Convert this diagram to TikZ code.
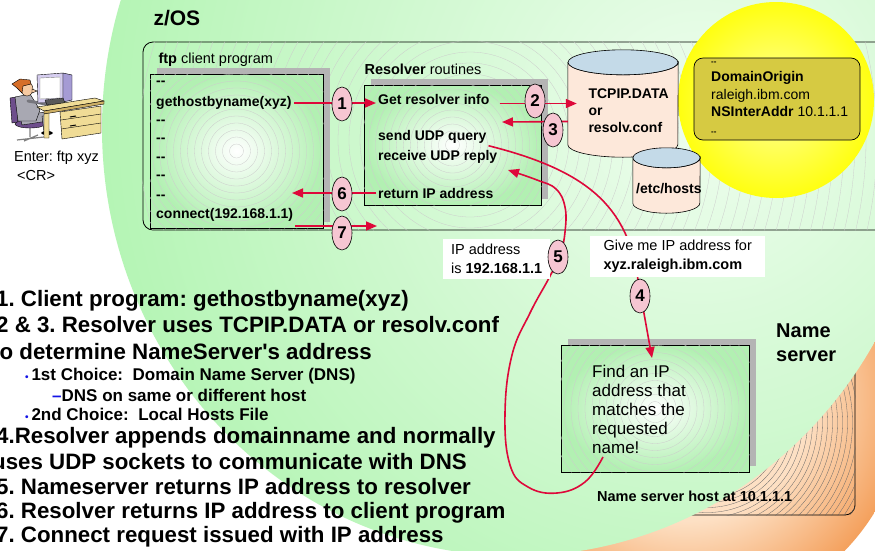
\documentclass[tikz,border=0pt]{standalone}
\usepackage{fontspec}
\setmainfont{Liberation Sans}
\usetikzlibrary{arrows.meta, positioning, shapes.geometric, shadows, calc}

\definecolor{zgreen}{RGB}{176,244,176}
\definecolor{zlight}{RGB}{238,253,238}
\definecolor{boxgreen}{RGB}{178,240,178}
\definecolor{peach}{RGB}{253,224,196}
\definecolor{dorange}{RGB}{244,160,92}
\definecolor{arrowred}{RGB}{222,8,58}
\definecolor{numpink}{RGB}{246,198,210}
\definecolor{khaki}{RGB}{214,202,66}
\definecolor{sunyellow}{RGB}{255,255,16}
\definecolor{capblue}{RGB}{196,218,232}
\definecolor{dbpeach}{RGB}{253,232,218}
\definecolor{shadowgray}{RGB}{180,180,180}
\definecolor{bulletblue}{RGB}{20,20,230}
\definecolor{deskfill}{RGB}{240,220,150}
\definecolor{deskdark}{RGB}{205,175,100}
\definecolor{screenlav}{RGB}{214,206,240}
\definecolor{lavdark}{RGB}{165,155,212}
\definecolor{suitgray}{RGB}{168,168,178}
\definecolor{hairorange}{RGB}{214,110,40}
\definecolor{skin}{RGB}{246,202,162}
\definecolor{chairpurple}{RGB}{110,78,140}

% orange backdrop of the name server
\pgfdeclareradialshading{orangering}{\pgfpoint{0bp}{0bp}}{%
  color(0bp)=(peach); color(14bp)=(peach); color(25bp)=(dorange); color(50bp)=(dorange)}

% concentric fill lines, clipped to a node
\newcommand{\ringfill}[5]{%
  \begin{scope}
    \clip[rounded corners=8pt] (#1.south west) rectangle (#1.north east);
    \foreach \k in {1,...,#4}
      \draw[#5] (#2) circle [radius=\k*#3];
  \end{scope}}

% data set drum drawn round a node: node, x radius, y radius of the ends
\newcommand{\drum}[3]{%
  \filldraw[fill=dbpeach, line width=0.6pt] ([yshift=-#3pt]#1.north west) -- ([yshift=#3pt]#1.south west)
    arc[start angle=180, end angle=0, x radius=#2, y radius=#3] -- ([yshift=-#3pt]#1.north east)
    arc[start angle=0, end angle=180, x radius=#2, y radius=#3] -- cycle;
  \filldraw[fill=capblue, line width=0.6pt] ([yshift=-#3pt]#1.north) ellipse [x radius=#2, y radius=#3];}

\begin{document}
\frenchspacing
\begin{tikzpicture}[x=1pt, y=-1pt,
    txt/.style={font=\fontsize{14.5}{19}\selectfont},
    code/.style={font=\bfseries\fontsize{14}{17}\selectfont, anchor=west, inner sep=2pt},
    biglist/.style={font=\bfseries\fontsize{22.3}{25}\selectfont, anchor=west, inner sep=0pt},
    sublist/.style={font=\bfseries\fontsize{17}{20}\selectfont, anchor=west, inner sep=0pt},
    routine/.style={rectangle, draw, line width=0.6pt, inner color=white, outer color=boxgreen,
        drop shadow={shadow xshift=7pt, shadow yshift=6.5pt, fill=shadowgray, opacity=1}},
    hostbox/.style={rectangle, rounded corners=10pt, draw, line width=0.8pt},
    numb/.style={ellipse, draw, line width=0.6pt, fill=numpink, minimum width=20pt,
        minimum height=34pt, inner sep=0pt, font=\bfseries\fontsize{17}{17}\selectfont},
    redarrow/.style={draw=arrowred, line width=1.6pt, -{Triangle[length=11pt, width=9pt]}},
    tag/.style={fill=white, align=left, anchor=north west, inner sep=1pt, txt},
    ring/.style={draw=gray!40, line width=0.3pt},
    hatch/.style={draw=black!60, line width=0.3pt}
  ]
  \useasboundingbox (0,0) rectangle (875,550);
  \clip (0,0) rectangle (875,550);
  \fill[white] (0,0) rectangle (875,550);

  % name server host, mostly hidden behind the z/OS disc
  \shade[shading=orangering] (686,397) circle [radius=221];
  \node[hostbox, minimum width=295pt, minimum height=185pt] (nshost) at (707.5,422.5) {};
  \ringfill{nshost}{nshost.center}{5}{38}{hatch}

  % z/OS disc
  \begin{scope}
    \clip (516,128) ellipse [x radius=414, y radius=428];
    \shade[inner color=zlight, outer color=zgreen] (700,120) circle [radius=650];
  \end{scope}

  \node[hostbox, minimum width=860pt, minimum height=188pt] (zos) at (573,136) {};
  \ringfill{zos}{470,140}{11}{40}{ring}
  \node[anchor=west, font=\bfseries\fontsize{21}{25}\selectfont] (zoslabel) at (150,18) {z/OS};

  % resolver configuration
  \shade[inner color=sunyellow!40!white, outer color=sunyellow] (776,100) circle [radius=98];
  \node[rectangle, rounded corners=9pt, draw, line width=0.7pt, fill=khaki,
        minimum width=166pt, minimum height=82pt] (nsconf) at (777,99) {};
  \node[anchor=west, align=left, inner sep=0pt, font=\fontsize{14}{17.5}\selectfont] (nsinfo) at (711,98)
    {{\fontsize{8}{8}\selectfont\bfseries -{}-}\\ \textbf{DomainOrigin}\\ raleigh.ibm.com\\
     \textbf{NSInterAddr} 10.1.1.1\\ {\fontsize{8}{8}\selectfont\bfseries -{}-}};

  \node[minimum width=110pt, minimum height=107pt, inner sep=0pt] (tcpip) at (623,103.5) {};
  \drum{tcpip}{55}{12.5}
  \node[anchor=west, align=left, font=\bfseries\fontsize{14}{17}\selectfont] (tcpipname) at (585,111)
    {TCPIP.DATA\\or\\resolv.conf};
  \node[minimum width=67pt, minimum height=65pt, inner sep=0pt] (hosts) at (666.5,180.5) {};
  \drum{hosts}{33.5}{10}
  \node[code] (hostsname) at (634,189) {/etc/hosts};

  % ftp client program
  \node[txt, anchor=west] (ftplabel) at (155,60) {\textbf{ftp} client program};
  \node[routine, minimum width=173pt, minimum height=154pt] (ftpbox) at (236.5,151) {};
  \ringfill{ftpbox}{ftpbox.center}{7}{16}{ring}
  \node[code] (dash1) at (154,83) {-{}-};
  \node[code] (ghbn) at (154,103) {gethostbyname(xyz)};
  \node[code] (dash2) at (154,122) {-{}-};
  \node[code] (dash3) at (154,140) {-{}-};
  \node[code] (dash4) at (154,159) {-{}-};
  \node[code] (dash5) at (154,177) {-{}-};
  \node[code] (dash6) at (154,197) {-{}-};
  \node[code] (conn) at (154,215) {connect(192.168.1.1)};

  % resolver routines
  \node[txt, anchor=west] (reslabel) at (361,69) {\textbf{Resolver} routines};
  \node[routine, minimum width=177pt, minimum height=120pt] (resbox) at (452.5,145) {};
  \ringfill{resbox}{resbox.center}{7}{15}{ring}
  \node[code] (getinfo) at (376,99) {Get resolver info};
  \node[code] (sendq) at (376,137) {send UDP query};
  \node[code] (recvr) at (376,157) {receive UDP reply};
  \node[code] (retip) at (376,193) {return IP address};

  % name server lookup
  \node[routine, minimum width=188pt, minimum height=127pt] (findbox) at (655,408.5) {};
  \ringfill{findbox}{findbox.center}{7}{16}{ring}
  \node[anchor=north west, align=left, inner sep=0pt, font=\fontsize{17}{19}\selectfont] (findtext) at (592,365)
    {Find an IP\\address that\\matches the\\requested\\name!};
  \node[anchor=north west, align=left, inner sep=0pt, font=\bfseries\fontsize{20}{24}\selectfont] (nslabel) at (776,324)
    {Name\\server};
  \node[anchor=west, inner sep=0pt, font=\bfseries\fontsize{14.5}{17}\selectfont] (nshostlabel) at (597,496)
    {Name server host at 10.1.1.1};

  % free ends of the flows
  \coordinate (r3end) at (502,122);
  \coordinate (r6end) at (292,193);
  \coordinate (r7end) at (377,226);
  \coordinate (qhit) at (652,358);
  \coordinate (nametail) at (603,457);
  \coordinate (replyhit) at (508,170);

  \draw[redarrow] (ghbn.east) -- (ghbn.east -| getinfo.west);
  \draw[redarrow] ([xshift=8pt]getinfo.east |- tcpip.west) -- ([xshift=9pt]tcpip.west);
  \draw[redarrow] ([yshift=-18pt]tcpip.west) -- (r3end);
  \draw[redarrow] (retip.west) -- (r6end);
  \draw[redarrow] (conn.east |- r7end) -- (r7end);
  \draw[redarrow] (sendq.south east) .. controls (585,170) and (628,205) .. (638,280) -- (qhit);
  \draw[redarrow] plot[smooth, tension=0.7] coordinates {(nametail) (585,482) (557,493) (528,487)
    (510,465) (505,413) (512,355) (530,313) (549,278) (560,255) (565,232) (565,207) (556,189)
    (537,180) (replyhit)};

  \node[tag, minimum width=107pt, minimum height=40pt] (ipis) at (443,239)
    {IP address\\is \textbf{192.168.1.1}};
  \node[tag, minimum width=175pt, minimum height=41pt] (giveme) at (590,236)
    {Give me IP address for\\\textbf{xyz.raleigh.ibm.com}};

  \node[numb] (n1) at (342,104) {1};
  \node[numb] (n2) at (535,101) {2};
  \node[numb] (n3) at (553,130) {3};
  \node[numb] (n4) at (640,296) {4};
  \node[numb] (n5) at (558,257) {5};
  \node[numb] (n6) at (342,194) {6};
  \node[numb] (n7) at (342,233) {7};

  % user at the terminal
  \filldraw[fill=chairpurple, line width=0.4pt] (10,98) -- (16,97) -- (18,122) -- (12,123) -- cycle;
  \draw[line width=1.2pt, gray] (30,127) -- (30,137) (17,140) -- (44,137) (24,141) -- (38,135);
  \filldraw[fill=chairpurple, line width=0.4pt] (30,124) ellipse [x radius=15, y radius=4];
  \filldraw[fill=suitgray, line width=0.4pt] (20,116) -- (45,112) -- (48,121) -- (22,125) -- cycle;
  \filldraw[fill=suitgray, line width=0.4pt] (42,116) -- (48,116) -- (49,132) -- (44,132) -- cycle;
  \fill[black] (47,133) ellipse [x radius=6, y radius=2];
  \filldraw[fill=suitgray, line width=0.4pt] (15,97) -- (30,94) -- (40,110) -- (36,121) -- (18,121) -- cycle;
  \draw[suitgray!70!black, line width=3pt, line cap=round] (28,101) -- (46,104);
  \filldraw[fill=skin, line width=0.4pt] (27,89) ellipse [x radius=6, y radius=7];
  \filldraw[fill=skin, line width=0.4pt] (32,89) -- (37,91) -- (32,93) -- cycle;
  \filldraw[fill=hairorange, line width=0.4pt] (12,84) -- (20,79) -- (30,80) -- (31,84) -- (23,86) -- (22,93) -- (17,88) -- cycle;
  \filldraw[fill=screenlav, line width=0.4pt] (37,75) -- (63,73) -- (63,102) -- (38,103) -- cycle;
  \filldraw[fill=lavdark, line width=0.4pt] (63,73) -- (72,75) -- (72,100) -- (63,102) -- cycle;
  \filldraw[fill=white, draw=gray, line width=0.4pt] (40,78) -- (60,77) -- (60,98) -- (40,99) -- cycle;
  \filldraw[fill=gray!70!black, line width=0.3pt] (45,100) -- (63,98) -- (65,103) -- (47,105) -- cycle;
  \filldraw[fill=deskfill, line width=0.4pt] (37,107) -- (95,98) -- (104,101) -- (44,111) -- cycle;
  \filldraw[fill=deskdark, line width=0.4pt] (44,111) -- (104,101) -- (104,104) -- (44,114) -- cycle;
  \filldraw[fill=deskfill, line width=0.4pt] (60,112) -- (101,106) -- (101,133) -- (62,139) -- cycle;
  \draw[line width=0.4pt] (61,120) -- (101,114) (61,129) -- (101,123);
  \draw[line width=1pt] (70,117) -- (76,116) (70,126) -- (76,125);
  \filldraw[fill=deskfill, line width=0.4pt] (44,114) -- (49,113) -- (49,138) -- (44,138) -- cycle;
  \node[anchor=north west, align=left, inner sep=0pt, txt] (enter) at (14,151)
    {Enter: ftp xyz\\\hspace*{3pt}<CR>};

  % numbered walk-through
  \node[biglist] (walk1) at (-4,301) {1. Client program: gethostbyname(xyz)};
  \node[biglist] (walk23) at (-4,325) {2 \& 3. Resolver uses TCPIP.DATA or resolv.conf};
  \node[biglist] (walk23b) at (-8,352) {to determine NameServer\textquotesingle s address};
  \node[sublist] (choice1) at (25,376) {\textcolor{bulletblue}{\fontsize{10}{10}\selectfont\textbullet}\,1st Choice:\ \ Domain Name Server (DNS)};
  \node[sublist] (choice1b) at (52,395) {\textcolor{bulletblue}{\textendash}DNS on same or different host};
  \node[sublist] (choice2) at (25,414) {\textcolor{bulletblue}{\fontsize{10}{10}\selectfont\textbullet}\,2nd Choice:\ \ Local Hosts File};
  \node[biglist] (walk4) at (-4,438) {4.Resolver appends domainname and normally};
  \node[biglist] (walk4b) at (-8,462) {uses UDP sockets to communicate with DNS};
  \node[biglist] (walk5) at (-4,487) {5. Nameserver returns IP address to resolver};
  \node[biglist] (walk6) at (-4,513) {6. Resolver returns IP address to client program};
  \node[biglist] (walk7) at (-4,537) {7. Connect request issued with IP address};
\end{tikzpicture}
\end{document}
